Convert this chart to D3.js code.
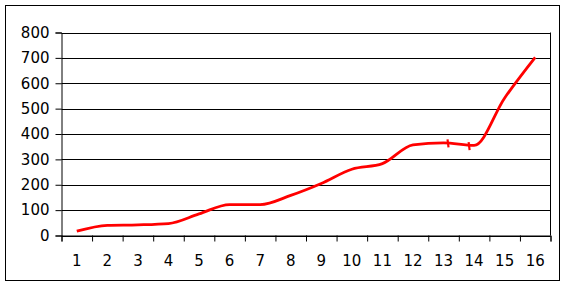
<!DOCTYPE html>
<html><head><meta charset="utf-8">
<script src="https://cdn.jsdelivr.net/npm/d3@7"></script>
<style>
html,body{margin:0;padding:0;background:#fff;}
svg{display:block;}
text{font-family:"DejaVu Sans",Verdana,sans-serif;}
</style></head>
<body>
<svg id="c" width="566" height="286"></svg>
<script>
const categories = ["1","2","3","4","5","6","7","8","9","10","11","12","13","14","15","16"];
const values = [17,40,42,47,85,122,122,158,205,261,283,357,365,355,542,702];
const yTicks = [0,100,200,300,400,500,600,700,800];
const breakPos = [13.14, 13.83];
const breakVal = [363, 352];

const svg = d3.select("#c");
svg.append("rect").attr("x",5.5).attr("y",5.5).attr("width",554).attr("height",275)
  .attr("fill","#fff").attr("stroke","#000").attr("stroke-width",1);

const x = d3.scaleLinear().domain([0.5, categories.length + 0.5]).range([61.5, 550.5]);
const y = d3.scaleLinear().domain([0, 800]).range([235.5, 32.5]);

// gridlines
svg.append("g").selectAll("line").data(yTicks).join("line")
  .attr("x1", x(0.5)).attr("x2", x(16.5))
  .attr("y1", d => Math.round(y(d)) + 0.5).attr("y2", d => Math.round(y(d)) + 0.5)
  .attr("stroke","#000").attr("stroke-width",1);

// right border of plot area
svg.append("line").attr("x1", x(16.5)).attr("x2", x(16.5)).attr("y1", y(800)).attr("y2", y(0))
  .attr("stroke","#000");

// y axis
const ya = svg.append("g").attr("transform", `translate(${x(0.5)},0)`)
  .call(d3.axisLeft(y).tickValues(yTicks).tickSize(6).tickPadding(6).tickFormat(d3.format("d")));
ya.select(".domain").attr("stroke","#000");
ya.selectAll(".tick line").attr("stroke","#000");
ya.selectAll("text").attr("font-size",15).attr("font-family","DejaVu Sans").attr("fill","#000");

// x axis ticks between categories
const xa = svg.append("g").attr("transform", `translate(0,${y(0)})`)
  .call(d3.axisBottom(x).tickValues(d3.range(0.5, categories.length + 1, 1)).tickSize(6).tickFormat(""));
xa.select(".domain").attr("stroke","#000");
xa.selectAll(".tick line").attr("stroke","#000");

// x labels
svg.append("g").selectAll("text").data(categories).join("text")
  .attr("x", (d,i) => x(i + 1)).attr("y", 266)
  .attr("text-anchor","middle").attr("font-size",15).attr("fill","#000")
  .text(d => d);

// line
const line = d3.line().x((d,i) => x(i + 1)).y(d => y(d)).curve(d3.curveMonotoneX);
svg.append("path").datum(values).attr("d", line)
  .attr("fill","none").attr("stroke","#ff0000").attr("stroke-width",2.8)
  .attr("stroke-linejoin","round").attr("stroke-linecap","butt");

// small break marks on the line
svg.append("g").selectAll("line").data(breakPos).join("line")
  .attr("x1", d => x(d) - 0.3).attr("x2", d => x(d) + 0.7)
  .attr("y1", (d,i) => y(breakVal[i]) - 4).attr("y2", (d,i) => y(breakVal[i]) + 4)
  .attr("stroke","#ff0000").attr("stroke-width",2.2);
</script>
</body></html>
